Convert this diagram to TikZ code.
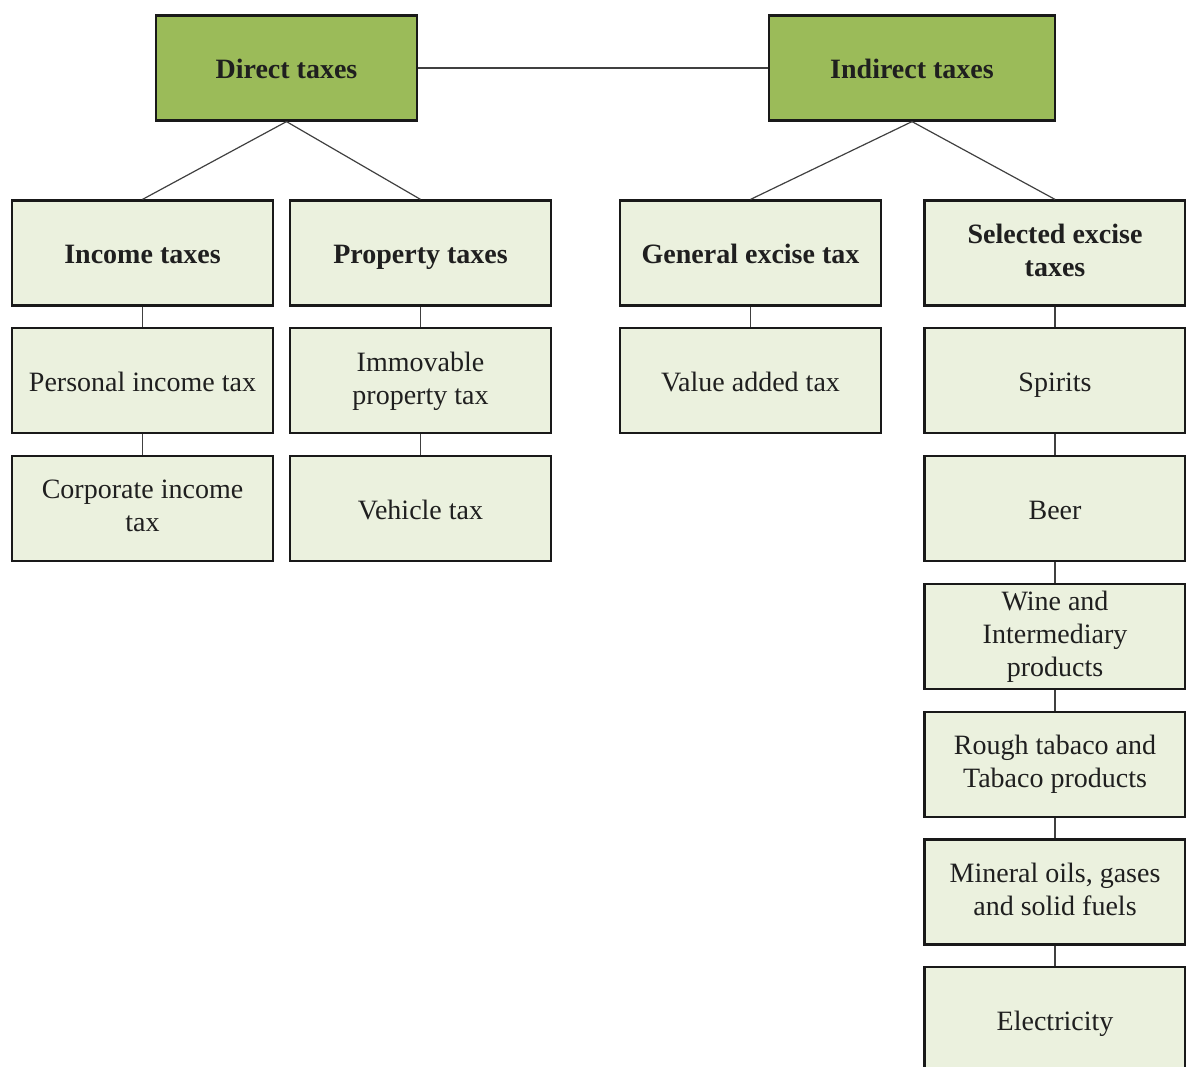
\documentclass[tikz,border=0pt]{standalone}
\usepackage{fontspec}
\setmainfont{Liberation Serif}
\usetikzlibrary{positioning}
\definecolor{verdeoscuro}{HTML}{9BBB59}
\definecolor{verdeclaro}{HTML}{EBF1DE}
\definecolor{grislinea}{HTML}{404040}
\colorlet{colPrincipal}{verdeoscuro}
\colorlet{colHoja}{verdeclaro}
\colorlet{colLinea}{grislinea}
\newcommand{\puntal}{\rule[-3pt]{0pt}{16.5pt}}
\tikzset{
  cajaBase/.style={
    draw=black!90, line width=1.1pt,
    minimum width=130.5pt, minimum height=52.5pt,
    align=center, inner sep=2pt, text=black!88,
    font=\fontsize{14}{16.5}\selectfont,
    execute at begin node=\puntal, execute at end node=\puntal
  },
  cajaPrincipal/.style={cajaBase, fill=colPrincipal,
    font=\fontsize{14}{16.5}\selectfont\bfseries},
  cajaGrupo/.style={cajaBase, fill=colHoja,
    font=\fontsize{14}{16.5}\selectfont\bfseries},
  cajaHoja/.style={cajaBase, fill=colHoja},
  linea/.style={draw=colLinea, line width=0.6pt},
}
\begin{document}
\begin{tikzpicture}[x=0.5pt, y=-0.5pt, node distance=10.3pt]
  \useasboundingbox (0,0) rectangle (1186,1066);
  % nivel superior
  \node[cajaPrincipal] (directos) at (286.5,68) {Direct taxes};
  \node[cajaPrincipal, minimum width=143pt] (indirectos) at (912,68) {Indirect taxes};
  % grupos
  \node[cajaGrupo] (renta) at (142.5,253) {Income taxes};
  \node[cajaGrupo] (propiedad) at (420.5,253) {Property taxes};
  \node[cajaGrupo] (general) at (750.5,253) {General excise tax};
  \node[cajaGrupo] (selectivos) at (1055,253) {Selected excise\\taxes};
  % columnas
  \node[cajaHoja, below=of renta] (personal) {Personal income tax};
  \node[cajaHoja, below=of personal] (corporativo) {Corporate income\\tax};
  \node[cajaHoja, below=of propiedad] (inmueble) {Immovable\\property tax};
  \node[cajaHoja, below=of inmueble] (vehiculo) {Vehicle tax};
  \node[cajaHoja, below=of general] (iva) {Value added tax};
  \node[cajaHoja, below=of selectivos] (licores) {Spirits};
  \node[cajaHoja, below=of licores] (cerveza) {Beer};
  \node[cajaHoja, below=of cerveza] (vino) {Wine and\\Intermediary\\products};
  \node[cajaHoja, below=of vino] (tabaco) {Rough tabaco and\\Tabaco products};
  \node[cajaHoja, below=of tabaco] (aceites) {Mineral oils, gases\\and solid fuels};
  \node[cajaHoja, below=of aceites] (electricidad) {Electricity};
  % conectores
  \draw[linea] (directos) -- (indirectos);
  \draw[linea] (directos.south) -- (renta.north);
  \draw[linea] (directos.south) -- (propiedad.north);
  \draw[linea] (indirectos.south) -- (general.north);
  \draw[linea] (indirectos.south) -- (selectivos.north);
  \draw[linea] (renta) -- (personal);
  \draw[linea] (personal) -- (corporativo);
  \draw[linea] (propiedad) -- (inmueble);
  \draw[linea] (inmueble) -- (vehiculo);
  \draw[linea] (general) -- (iva);
  \draw[linea] (selectivos) -- (licores);
  \draw[linea] (licores) -- (cerveza);
  \draw[linea] (cerveza) -- (vino);
  \draw[linea] (vino) -- (tabaco);
  \draw[linea] (tabaco) -- (aceites);
  \draw[linea] (aceites) -- (electricidad);
\end{tikzpicture}
\end{document}
